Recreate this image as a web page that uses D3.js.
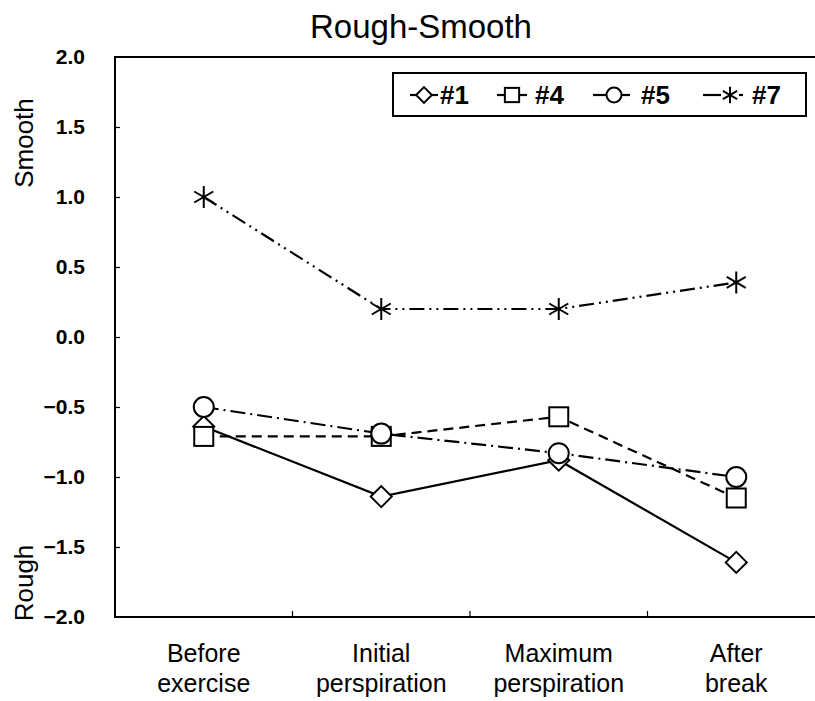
<!DOCTYPE html>
<html>
<head>
<meta charset="utf-8">
<script src="https://cdn.jsdelivr.net/npm/d3@7"></script>
<style>
  html, body { margin: 0; padding: 0; background: #fff; }
  svg text { font-family: "Liberation Sans", Arial, sans-serif; fill: #000; }
</style>
</head>
<body>
<svg id="chart" width="815" height="701"></svg>
<script>
// Measurement stages and scores for each subject
const stages = [["Before", "exercise"], ["Initial", "perspiration"], ["Maximum", "perspiration"], ["After", "break"]];
const subjects = ["#1", "#4", "#5", "#7"];
const s1 = [-0.64, -1.14, -0.88, -1.61];
const s4 = [-0.71, -0.71, -0.57, -1.15];
const s5 = [-0.50, -0.69, -0.83, -1.00];
const s7 = [1.00, 0.20, 0.20, 0.39];
const yTicks = [-2.0, -1.5, -1.0, -0.5, 0.0, 0.5, 1.0, 1.5, 2.0];

const seriesValues = [s1, s4, s5, s7];
const dashes = [null, "10,6", "15,5,2,5", "15,5,2,5,2,5"];
const markers = ["diamond", "square", "circle", "star"];

const svg = d3.select("#chart");
const plotL = 115, plotR = 825, plotT = 57, plotB = 617;

const x = d3.scaleBand().domain(d3.range(stages.length)).range([plotL, plotR]);
const y = d3.scaleLinear().domain([-2, 2]).range([plotB, plotT]);
const cx = i => x(i) + x.bandwidth() / 2;

// Title
svg.append("text").attr("x", 421).attr("y", 38).attr("text-anchor", "middle")
  .attr("font-size", 33).text("Rough-Smooth");

// Frame (the right side runs past the canvas)
svg.append("path")
  .attr("d", `M${plotR},${plotT}H${plotL}V${plotB}H${plotR}`)
  .attr("fill", "none").attr("stroke", "#000").attr("stroke-width", 2);

// Y axis: short inward ticks and bold labels
const yAxis = d3.axisLeft(y).tickValues(yTicks).tickSize(-5).tickPadding(30)
  .tickFormat(d3.format(".1f"));
const gy = svg.append("g").attr("transform", `translate(${plotL},0)`).call(yAxis);
gy.select(".domain").remove();
gy.selectAll(".tick line").attr("stroke", "#000").attr("stroke-width", 1.2)
  .filter(d => d === -2 || d === 2).remove();
gy.selectAll(".tick text").attr("font-size", 21).attr("font-weight", "bold")
  .attr("font-family", "Liberation Sans, Arial, sans-serif");

// X axis: inward ticks at the band boundaries
const boundaries = d3.range(1, stages.length).map(i => x(i));
svg.append("g").selectAll("line").data(boundaries).join("line")
  .attr("x1", d => d).attr("x2", d => d).attr("y1", plotB).attr("y2", plotB - 6)
  .attr("stroke", "#000").attr("stroke-width", 1.2);

// Category labels on two lines
const cat = svg.append("g").selectAll("text").data(stages).join("text")
  .attr("text-anchor", "middle").attr("font-size", 25);
cat.append("tspan").attr("x", (d, i) => cx(i)).attr("y", 662).text(d => d[0]);
cat.append("tspan").attr("x", (d, i) => cx(i)).attr("y", 692).text(d => d[1]);

// Axis titles
svg.append("text").attr("transform", "translate(33,143) rotate(-90)")
  .attr("text-anchor", "middle").attr("font-size", 26).text("Smooth");
svg.append("text").attr("transform", "translate(33,583) rotate(-90)")
  .attr("text-anchor", "middle").attr("font-size", 26).text("Rough");

// Marker drawing; k scales the symbol size
function drawMarker(g, type, px, py, k = 1) {
  let m;
  if (type === "diamond") {
    const r = 10.5 * k;
    m = g.append("path").attr("d", `M${px},${py - r}L${px + r},${py}L${px},${py + r}L${px - r},${py}Z`);
  } else if (type === "square") {
    const h = 9.5 * k;
    m = g.append("rect").attr("x", px - h).attr("y", py - h).attr("width", 2 * h).attr("height", 2 * h);
  } else if (type === "circle") {
    m = g.append("circle").attr("cx", px).attr("cy", py).attr("r", 10 * k);
  } else {
    const r = 11 * k, p = [];
    for (let j = 0; j < 3; j++) {
      const a = Math.PI / 2 + j * Math.PI / 3;
      p.push(`M${px + r * Math.cos(a)},${py + r * Math.sin(a)}L${px - r * Math.cos(a)},${py - r * Math.sin(a)}`);
    }
    m = g.append("path").attr("d", p.join(""));
  }
  m.attr("fill", type === "star" ? "none" : "#fff").attr("stroke", "#000").attr("stroke-width", 2);
}

// Series lines and markers
const line = d3.line().x((d, i) => cx(i)).y(d => y(d));
seriesValues.forEach((vals, s) => {
  svg.append("path").datum(vals).attr("d", line)
    .attr("fill", "none").attr("stroke", "#000").attr("stroke-width", 2.2)
    .attr("stroke-dasharray", dashes[s]);
});
seriesValues.forEach((vals, s) => {
  const g = svg.append("g");
  vals.forEach((v, i) => drawMarker(g, markers[s], cx(i), y(v)));
});

// Legend
const lg = svg.append("g");
lg.append("rect").attr("x", 393).attr("y", 73).attr("width", 413).attr("height", 43)
  .attr("fill", "#fff").attr("stroke", "#000").attr("stroke-width", 2);
// sample segments, marker centre and text start for each entry
const legendItems = [
  { segs: [[410, 438]], mx: 424, tx: 440 },
  { segs: [[497, 504], [520, 527]], mx: 512, tx: 535 },
  { segs: [[593, 606], [622, 630]], mx: 614, tx: 641 },
  { segs: [[703, 721], [739, 743]], mx: 730, tx: 752 }
];
subjects.forEach((name, s) => {
  const it = legendItems[s], cy = 95;
  it.segs.forEach(sg => lg.append("line")
    .attr("x1", sg[0]).attr("x2", sg[1]).attr("y1", cy).attr("y2", cy)
    .attr("stroke", "#000").attr("stroke-width", 2.2));
  drawMarker(lg, markers[s], it.mx, cy, 0.75);
  lg.append("text").attr("x", it.tx).attr("y", 104).attr("font-size", 26)
    .attr("font-weight", "bold").text(name);
});
</script>
</body>
</html>
